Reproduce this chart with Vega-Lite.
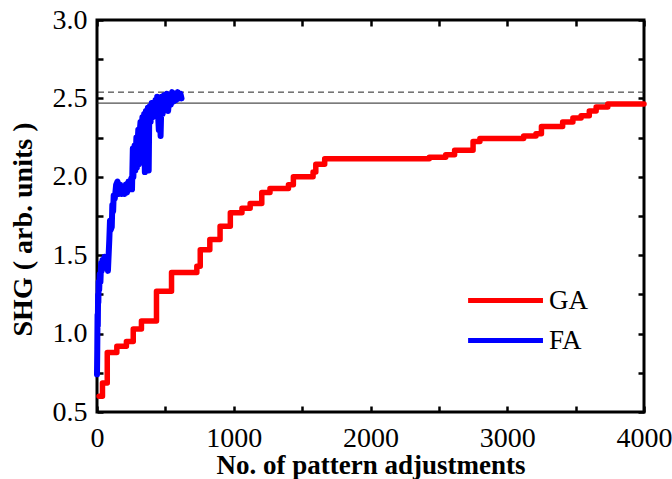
{
  "$schema": "https://vega.github.io/schema/vega-lite/v6.json",
  "width": 547,
  "height": 392,
  "autosize": {"type": "none"},
  "padding": {"left": 97, "top": 20, "right": 28, "bottom": 67},
  "background": "white",
  "config": {
    "view": {"stroke": "black", "strokeWidth": 3},
    "font": "Liberation Serif",
    "axis": {
      "domain": false,
      "grid": false,
      "tickColor": "black",
      "tickWidth": 2.5,
      "tickSize": -6,
      "labelFont": "Liberation Serif",
      "labelFontSize": 28,
      "labelColor": "black",
      "titleFont": "Liberation Serif",
      "titleFontSize": 27,
      "titleFontWeight": "bold",
      "titleColor": "black"
    },
    "legend": {
      "labelFont": "Liberation Serif",
      "labelFontSize": 27,
      "labelColor": "black",
      "symbolType": "M-2.1,0H1.02",
      "symbolStrokeWidth": 5,
      "symbolSize": 2304,
      "rowPadding": 0,
      "labelOffset": 4,
      "padding": 0
    }
  },
  "datasets": {
    "refs": [
      {"v": 2.54, "kind": "dashed"},
      {"v": 2.47, "kind": "solid"}
    ],
    "curves": [
      {"n": 15, "shg": 0.6, "algo": "GA"},
      {"n": 40, "shg": 0.685, "algo": "GA"},
      {"n": 75, "shg": 0.88, "algo": "GA"},
      {"n": 145, "shg": 0.92, "algo": "GA"},
      {"n": 215, "shg": 0.95, "algo": "GA"},
      {"n": 265, "shg": 1.03, "algo": "GA"},
      {"n": 325, "shg": 1.08, "algo": "GA"},
      {"n": 435, "shg": 1.27, "algo": "GA"},
      {"n": 545, "shg": 1.39, "algo": "GA"},
      {"n": 730, "shg": 1.43, "algo": "GA"},
      {"n": 755, "shg": 1.535, "algo": "GA"},
      {"n": 825, "shg": 1.6, "algo": "GA"},
      {"n": 900, "shg": 1.685, "algo": "GA"},
      {"n": 975, "shg": 1.77, "algo": "GA"},
      {"n": 1060, "shg": 1.8, "algo": "GA"},
      {"n": 1120, "shg": 1.83, "algo": "GA"},
      {"n": 1205, "shg": 1.9, "algo": "GA"},
      {"n": 1265, "shg": 1.925, "algo": "GA"},
      {"n": 1400, "shg": 1.95, "algo": "GA"},
      {"n": 1436, "shg": 2.0, "algo": "GA"},
      {"n": 1580, "shg": 2.03, "algo": "GA"},
      {"n": 1600, "shg": 2.08, "algo": "GA"},
      {"n": 1665, "shg": 2.115, "algo": "GA"},
      {"n": 2430, "shg": 2.125, "algo": "GA"},
      {"n": 2550, "shg": 2.14, "algo": "GA"},
      {"n": 2615, "shg": 2.17, "algo": "GA"},
      {"n": 2750, "shg": 2.225, "algo": "GA"},
      {"n": 2800, "shg": 2.245, "algo": "GA"},
      {"n": 3120, "shg": 2.26, "algo": "GA"},
      {"n": 3210, "shg": 2.275, "algo": "GA"},
      {"n": 3250, "shg": 2.32, "algo": "GA"},
      {"n": 3405, "shg": 2.35, "algo": "GA"},
      {"n": 3480, "shg": 2.375, "algo": "GA"},
      {"n": 3540, "shg": 2.39, "algo": "GA"},
      {"n": 3600, "shg": 2.42, "algo": "GA"},
      {"n": 3650, "shg": 2.445, "algo": "GA"},
      {"n": 3735, "shg": 2.465, "algo": "GA"},
      {"n": 4000, "shg": 2.465, "algo": "GA"},
      {"n": 0, "shg": 0.74, "algo": "FA"},
      {"n": 2, "shg": 0.9, "algo": "FA"},
      {"n": 4, "shg": 1.12, "algo": "FA"},
      {"n": 6, "shg": 1.05, "algo": "FA"},
      {"n": 8, "shg": 1.25, "algo": "FA"},
      {"n": 10, "shg": 1.2, "algo": "FA"},
      {"n": 12, "shg": 1.33, "algo": "FA"},
      {"n": 16, "shg": 1.28, "algo": "FA"},
      {"n": 20, "shg": 1.38, "algo": "FA"},
      {"n": 25, "shg": 1.33, "algo": "FA"},
      {"n": 30, "shg": 1.45, "algo": "FA"},
      {"n": 35, "shg": 1.4, "algo": "FA"},
      {"n": 40, "shg": 1.47, "algo": "FA"},
      {"n": 50, "shg": 1.44, "algo": "FA"},
      {"n": 55, "shg": 1.49, "algo": "FA"},
      {"n": 60, "shg": 1.45, "algo": "FA"},
      {"n": 70, "shg": 1.47, "algo": "FA"},
      {"n": 80, "shg": 1.4, "algo": "FA"},
      {"n": 90, "shg": 1.6, "algo": "FA"},
      {"n": 95, "shg": 1.72, "algo": "FA"},
      {"n": 100, "shg": 1.66, "algo": "FA"},
      {"n": 108, "shg": 1.68, "algo": "FA"},
      {"n": 112, "shg": 1.82, "algo": "FA"},
      {"n": 118, "shg": 1.78, "algo": "FA"},
      {"n": 122, "shg": 1.88, "algo": "FA"},
      {"n": 130, "shg": 1.86, "algo": "FA"},
      {"n": 140, "shg": 1.95, "algo": "FA"},
      {"n": 150, "shg": 1.97, "algo": "FA"},
      {"n": 160, "shg": 1.89, "algo": "FA"},
      {"n": 170, "shg": 1.95, "algo": "FA"},
      {"n": 180, "shg": 1.89, "algo": "FA"},
      {"n": 190, "shg": 1.93, "algo": "FA"},
      {"n": 200, "shg": 1.89, "algo": "FA"},
      {"n": 210, "shg": 1.95, "algo": "FA"},
      {"n": 220, "shg": 1.9, "algo": "FA"},
      {"n": 230, "shg": 1.97, "algo": "FA"},
      {"n": 240, "shg": 1.92, "algo": "FA"},
      {"n": 250, "shg": 1.99, "algo": "FA"},
      {"n": 256, "shg": 1.92, "algo": "FA"},
      {"n": 262, "shg": 2.18, "algo": "FA"},
      {"n": 266, "shg": 2.0, "algo": "FA"},
      {"n": 270, "shg": 2.12, "algo": "FA"},
      {"n": 275, "shg": 2.2, "algo": "FA"},
      {"n": 280, "shg": 2.04, "algo": "FA"},
      {"n": 285, "shg": 2.18, "algo": "FA"},
      {"n": 288, "shg": 2.25, "algo": "FA"},
      {"n": 292, "shg": 2.06, "algo": "FA"},
      {"n": 296, "shg": 2.2, "algo": "FA"},
      {"n": 302, "shg": 2.3, "algo": "FA"},
      {"n": 306, "shg": 2.08, "algo": "FA"},
      {"n": 310, "shg": 2.26, "algo": "FA"},
      {"n": 318, "shg": 2.35, "algo": "FA"},
      {"n": 322, "shg": 2.12, "algo": "FA"},
      {"n": 326, "shg": 2.3, "algo": "FA"},
      {"n": 332, "shg": 2.38, "algo": "FA"},
      {"n": 336, "shg": 2.2, "algo": "FA"},
      {"n": 340, "shg": 2.34, "algo": "FA"},
      {"n": 345, "shg": 2.4, "algo": "FA"},
      {"n": 350, "shg": 2.03, "algo": "FA"},
      {"n": 354, "shg": 2.36, "algo": "FA"},
      {"n": 358, "shg": 2.42, "algo": "FA"},
      {"n": 365, "shg": 2.3, "algo": "FA"},
      {"n": 372, "shg": 2.44, "algo": "FA"},
      {"n": 378, "shg": 2.04, "algo": "FA"},
      {"n": 382, "shg": 2.38, "algo": "FA"},
      {"n": 386, "shg": 2.45, "algo": "FA"},
      {"n": 392, "shg": 2.35, "algo": "FA"},
      {"n": 400, "shg": 2.47, "algo": "FA"},
      {"n": 406, "shg": 2.38, "algo": "FA"},
      {"n": 412, "shg": 2.47, "algo": "FA"},
      {"n": 420, "shg": 2.42, "algo": "FA"},
      {"n": 428, "shg": 2.49, "algo": "FA"},
      {"n": 434, "shg": 2.43, "algo": "FA"},
      {"n": 440, "shg": 2.51, "algo": "FA"},
      {"n": 452, "shg": 2.3, "algo": "FA"},
      {"n": 458, "shg": 2.5, "algo": "FA"},
      {"n": 465, "shg": 2.26, "algo": "FA"},
      {"n": 472, "shg": 2.51, "algo": "FA"},
      {"n": 480, "shg": 2.4, "algo": "FA"},
      {"n": 490, "shg": 2.52, "algo": "FA"},
      {"n": 500, "shg": 2.44, "algo": "FA"},
      {"n": 510, "shg": 2.53, "algo": "FA"},
      {"n": 520, "shg": 2.42, "algo": "FA"},
      {"n": 530, "shg": 2.52, "algo": "FA"},
      {"n": 540, "shg": 2.46, "algo": "FA"},
      {"n": 550, "shg": 2.54, "algo": "FA"},
      {"n": 560, "shg": 2.48, "algo": "FA"},
      {"n": 570, "shg": 2.53, "algo": "FA"},
      {"n": 580, "shg": 2.49, "algo": "FA"},
      {"n": 590, "shg": 2.54, "algo": "FA"},
      {"n": 600, "shg": 2.5, "algo": "FA"},
      {"n": 610, "shg": 2.53, "algo": "FA"},
      {"n": 618, "shg": 2.5, "algo": "FA"}
    ]
  },
  "resolve": {"axis": {"x": "independent", "y": "independent"}},
  "layer": [
    {
      "data": {"name": "refs"},
      "mark": {"type": "rule", "strokeWidth": 1},
      "encoding": {
        "y": {"field": "v", "type": "quantitative", "scale": {"domain": [0.5, 3.0]}, "axis": null},
        "strokeDash": {"field": "kind", "type": "nominal", "scale": {"domain": ["dashed", "solid"], "range": [[6, 4], [1, 0]]}, "legend": null},
        "color": {"value": "#222222"}
      }
    },
    {
      "data": {"name": "curves"},
      "transform": [{"filter": "datum.algo === 'GA'"}],
      "mark": {"type": "line", "interpolate": "step-after", "strokeWidth": 5.5, "strokeCap": "round", "strokeJoin": "round"},
      "encoding": {
        "x": {
          "field": "n", "type": "quantitative",
          "scale": {"domain": [0, 4000], "nice": false},
          "axis": {
            "orient": "bottom",
            "values": [0, 500, 1000, 1500, 2000, 2500, 3000, 3500, 4000],
            "labelExpr": "datum.value % 1000 === 0 ? format(datum.value, 'd') : ''",
            "labelPadding": 18,
            "labelFlush": false,
            "labelBound": false,
            "title": "No. of pattern adjustments",
            "titleX": 273.5,
            "titleY": 61,
            "titleBaseline": "alphabetic"
          }
        },
        "y": {
          "field": "shg", "type": "quantitative",
          "scale": {"domain": [0.5, 3.0], "nice": false, "zero": false},
          "axis": {
            "orient": "left",
            "values": [0.5, 0.75, 1.0, 1.25, 1.5, 1.75, 2.0, 2.25, 2.5, 2.75, 3.0],
            "labelExpr": "(datum.value * 4) % 2 === 0 ? format(datum.value, '.1f') : ''",
            "labelPadding": 16,
            "labelFlush": false,
            "title": "SHG ( arb. units )",
            "titleFontSize": 28,
            "titleX": -60,
            "titleY": 209,
            "titleBaseline": "bottom"
          }
        },
        "color": {
          "field": "algo", "type": "nominal",
          "scale": {"domain": ["GA", "FA"], "range": ["#ff0000", "#0000ff"]},
          "legend": {"title": null, "orient": "none", "legendX": 395, "legendY": 254}
        }
      }
    },
    {
      "data": {"name": "curves"},
      "transform": [{"filter": "datum.algo === 'FA'"}],
      "mark": {"type": "line", "strokeWidth": 6, "strokeCap": "round", "strokeJoin": "round"},
      "encoding": {
        "x": {
          "field": "n", "type": "quantitative",
          "scale": {"domain": [0, 4000], "nice": false},
          "axis": {
            "orient": "top",
            "values": [0, 500, 1000, 1500, 2000, 2500, 3000, 3500, 4000],
            "labels": false,
            "title": null
          }
        },
        "y": {
          "field": "shg", "type": "quantitative",
          "scale": {"domain": [0.5, 3.0], "nice": false, "zero": false},
          "axis": {
            "orient": "right",
            "values": [0.5, 0.75, 1.0, 1.25, 1.5, 1.75, 2.0, 2.25, 2.5, 2.75, 3.0],
            "labels": false,
            "title": null
          }
        },
        "color": {
          "field": "algo", "type": "nominal",
          "scale": {"domain": ["GA", "FA"], "range": ["#ff0000", "#0000ff"]}
        }
      }
    }
  ]
}
